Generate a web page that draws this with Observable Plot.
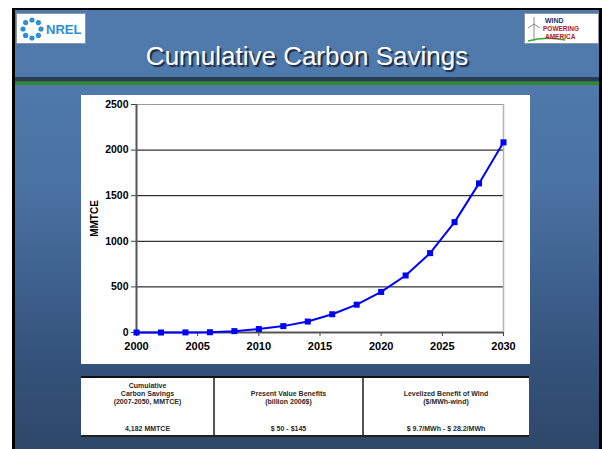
<!DOCTYPE html>
<html>
<head>
<meta charset="utf-8">
<script src="https://cdn.jsdelivr.net/npm/d3@7"></script>
<script src="https://cdn.jsdelivr.net/npm/@observablehq/plot@0.6"></script>
<style>
  html, body { margin: 0; padding: 0; }
  body { width: 602px; height: 449px; background: #ffffff; position: relative; overflow: hidden;
         font-family: "Liberation Sans", Arial, sans-serif; }
  .slide { position: absolute; left: 12px; top: 8px; width: 590px; height: 441px; box-sizing: border-box;
           border-left: 3px solid #000; border-top: 2px solid #000; border-right: 3px solid #000;
           background: linear-gradient(to bottom, #507aac 0%, #4f79aa 18%, #4a72a2 40%, #3f6290 60%, #34527a 80%, #2e4869 100%); }
  .band1 { position: absolute; left: 15px; width: 584px; top: 77px; height: 4px; background: #2a3d56; }
  .band2 { position: absolute; left: 15px; width: 584px; top: 81px; height: 1px; background: #3f6a4a; }
  .band3 { position: absolute; left: 15px; width: 584px; top: 82px; height: 3px; background: #2f8a2f; }
  .title { position: absolute; left: 12px; width: 590px; top: 43px; text-align: center; color: #fff;
           font-size: 26px; line-height: 26px; text-shadow: 2px 2px 1px #1b2b42; white-space: nowrap; }
  .logo { position: absolute; background: #fff; border: 1px solid #8c96a8; box-sizing: border-box; }
  #chart { position: absolute; left: 81px; top: 95px; }
  #chart svg text { font-weight: bold; }
  #tbl { position: absolute; left: 81px; top: 376px; width: 448px; height: 61px; background: #fff;
         border-top: 2px solid #111; border-bottom: 2px solid #222; box-sizing: border-box; }
  .col { position: absolute; top: 0; bottom: 0; text-align: center; color: #2a2a2a; font-weight: bold; }
  .col .h { position: absolute; left: 0; right: 0; top: 0; height: 32px; display: flex; flex-direction: column;
            justify-content: flex-end; padding-bottom: 4px; box-sizing: border-box; font-size: 7px; line-height: 8px; }
  .col .v { position: absolute; left: 0; right: 0; top: 47px; font-size: 7px; line-height: 8px; }
  .div { position: absolute; top: 0; bottom: 0; width: 2px; background: #555; }
</style>
</head>
<body>
<div class="slide"></div>
<div class="band1"></div><div class="band2"></div><div class="band3"></div>

<div class="logo" style="left:16px;top:13px;width:70px;height:31px;">
  <svg width="68" height="29" viewBox="0 0 68 29">
    <g fill="#2b8fd3">
      <circle cx="15" cy="6" r="2.6"/><circle cx="21.4" cy="8.6" r="2.6"/><circle cx="24" cy="15" r="2.6"/>
      <circle cx="21.4" cy="21.4" r="2.6"/><circle cx="15" cy="24" r="2.6"/><circle cx="8.6" cy="21.4" r="2.6"/>
      <circle cx="6" cy="15" r="2.6"/><circle cx="8.6" cy="8.6" r="2.6"/>
    </g>
    <text x="29" y="20" font-family="Liberation Sans, Arial, sans-serif" font-weight="bold" font-size="13" fill="#2b8fd3">NREL</text>
  </svg>
</div>

<div class="logo" style="left:524px;top:13px;width:75px;height:31px;">
  <svg width="73" height="29" viewBox="0 0 73 29">
    <g stroke="#8a8a8a" stroke-width="1" fill="none">
      <line x1="9" y1="10" x2="9" y2="27"/><line x1="9" y1="10" x2="9" y2="3"/>
      <line x1="9" y1="10" x2="3" y2="14"/><line x1="9" y1="10" x2="15" y2="14"/>
    </g>
    <path d="M3 27 Q20 22 40 26" stroke="#3aa83a" stroke-width="1.5" fill="none"/>
    <text x="20" y="9" font-family="Liberation Sans, Arial, sans-serif" font-weight="bold" font-size="7" fill="#23306e">WIND</text>
    <text x="18" y="17" font-family="Liberation Sans, Arial, sans-serif" font-weight="bold" font-size="6.5" fill="#b02020">POWERING</text>
    <text x="20" y="25" font-family="Liberation Sans, Arial, sans-serif" font-weight="bold" font-size="6.5" fill="#b02020">AMERICA</text>
  </svg>
</div>

<div class="title">Cumulative Carbon Savings</div>

<div id="chart"></div>
<div id="tbl"></div>

<script>
// ---- data ----
const years   = [2000, 2002, 2004, 2006, 2008, 2010, 2012, 2014, 2016, 2018, 2020, 2022, 2024, 2026, 2028, 2030];
const savings = [0, 0, 1, 3, 15, 38, 70, 120, 200, 305, 445, 625, 870, 1210, 1635, 2085];
const yTicks  = [0, 500, 1000, 1500, 2000, 2500];
const xTicks  = [2000, 2005, 2010, 2015, 2020, 2025, 2030];
const yLabel  = "MMTCE";

const tableHeaders = [
  ["Cumulative", "Carbon Savings", "(2007-2050, MMTCE)"],
  ["Present Value Benefits", "(billion 2006$)"],
  ["Levelized Benefit of Wind", "($/MWh-wind)"]
];
const tableValues = ["4,182 MMTCE", "$ 50 - $145", "$ 9.7/MWh - $ 28.2/MWh"];

const data = years.map((year, i) => ({year, value: savings[i]}));
const fmt = d3.format("d");

const chart = Plot.plot({
  width: 449,
  height: 269,
  marginLeft: 55,
  marginTop: 9,
  marginRight: 27,
  marginBottom: 32,
  style: {background: "#ffffff", fontFamily: "Liberation Sans, Arial, sans-serif", color: "#000", fontSize: "10px"},
  x: {domain: [xTicks[0], xTicks[xTicks.length - 1]]},
  y: {domain: [yTicks[0], yTicks[yTicks.length - 1]]},
  marks: [
    Plot.ruleY(yTicks.slice(1, -1), {stroke: "#000", strokeWidth: 1}),
    Plot.ruleY(yTicks.slice(-1), {stroke: "#9a9a9a", strokeWidth: 1}),
    Plot.ruleX(xTicks.slice(-1), {stroke: "#b4b4b4", strokeWidth: 1.5}),
    Plot.axisY({ticks: yTicks, tickSize: 5, tickPadding: 3, tickFormat: fmt, fontSize: 10.5, fontWeight: "bold",
                label: null, stroke: "#444"}),
    Plot.axisX({ticks: xTicks, tickSize: 4, tickPadding: 6, tickFormat: fmt, fontSize: 11, fontWeight: "bold",
                label: null, stroke: "#444"}),
    Plot.text([yLabel], {frameAnchor: "left", rotate: -90, dx: -42, fontSize: 10, fontWeight: "bold",
                         textAnchor: "middle", lineAnchor: "middle", fill: "#000"}),
    Plot.ruleX(xTicks.slice(0, 1), {stroke: "#555", strokeWidth: 2}),
    Plot.ruleY(yTicks.slice(0, 1), {stroke: "#555", strokeWidth: 2}),
    Plot.line(data, {x: "year", y: "value", stroke: "#0000ff", strokeWidth: 2}),
    Plot.dot(data, {x: "year", y: "value", symbol: "square", fill: "#0000ff", stroke: "none", r: 3.4})
  ]
});
document.getElementById("chart").appendChild(chart);

// ---- table ----
const tbl = document.getElementById("tbl");
const colEdges = [0, 133, 282, 448];
tableHeaders.forEach((lines, i) => {
  const col = document.createElement("div");
  col.className = "col";
  col.style.left = colEdges[i] + "px";
  col.style.width = (colEdges[i + 1] - colEdges[i]) + "px";
  const h = document.createElement("div");
  h.className = "h";
  lines.forEach(t => { const s = document.createElement("div"); s.textContent = t; h.appendChild(s); });
  const v = document.createElement("div");
  v.className = "v";
  v.textContent = tableValues[i];
  col.appendChild(h);
  col.appendChild(v);
  tbl.appendChild(col);
  if (i > 0) {
    const d = document.createElement("div");
    d.className = "div";
    d.style.left = (colEdges[i] - 1) + "px";
    tbl.appendChild(d);
  }
});
</script>
</body>
</html>
